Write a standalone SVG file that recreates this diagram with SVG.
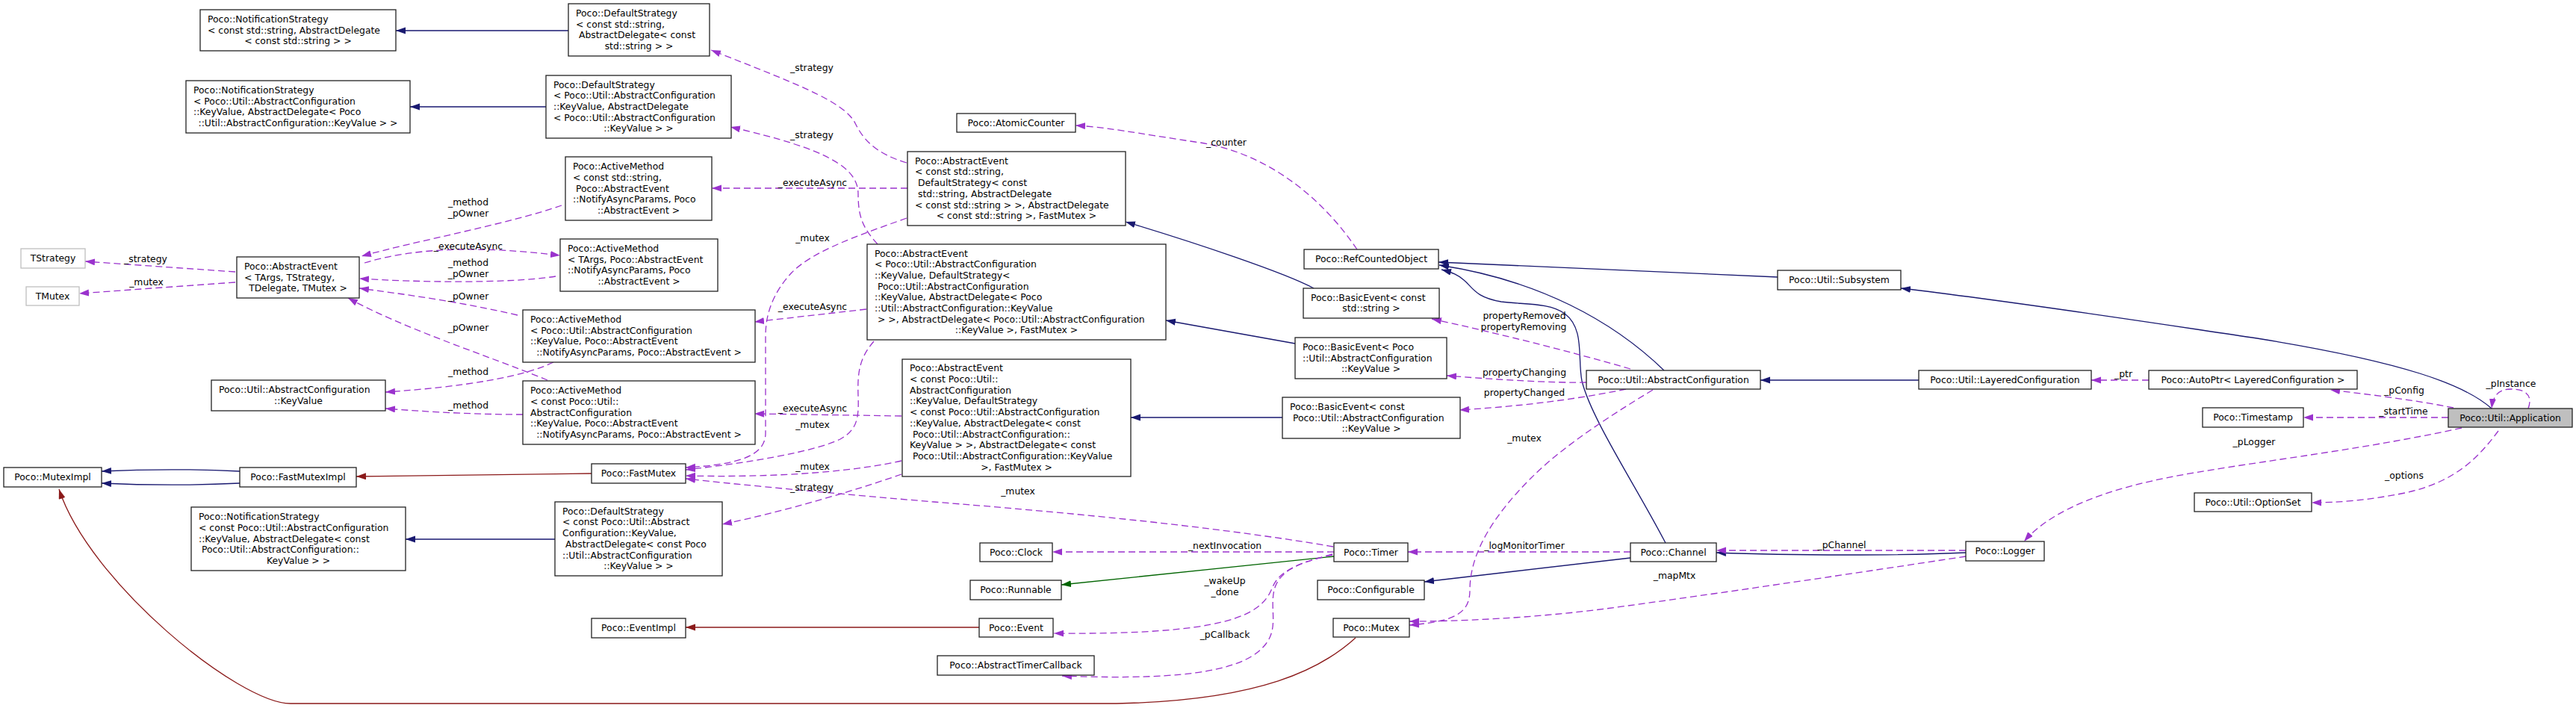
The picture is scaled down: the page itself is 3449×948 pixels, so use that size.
<svg xmlns="http://www.w3.org/2000/svg" width="3449" height="948" viewBox="0 0 3449 948">
<style>
text{font-family:"DejaVu Sans","Liberation Sans",sans-serif;font-size:12.4px;fill:#000}
.c{text-anchor:middle}
.node rect{fill:#fff;stroke:#222;stroke-width:1.3}
.node.gray rect{stroke:#bfbfbf}
.node.cur rect{fill:#bfbfbf}
#edges path{fill:none;stroke-width:1.3}
#edges .inh{stroke:#191970;marker-end:url(#an)}
#edges .pri{stroke:#8b1a1a;marker-end:url(#ar)}
#edges .pro{stroke:#006400;marker-end:url(#ag)}
#edges .use{stroke:#9a32cd;stroke-dasharray:9,5;marker-end:url(#ap)}
</style>
<defs>
<marker id="an" markerUnits="userSpaceOnUse" markerWidth="14" markerHeight="10" refX="13" refY="4.5" orient="auto"><path d="M0,0 L13,4.5 L0,9 z" fill="#191970"/></marker>
<marker id="ar" markerUnits="userSpaceOnUse" markerWidth="14" markerHeight="10" refX="13" refY="4.5" orient="auto"><path d="M0,0 L13,4.5 L0,9 z" fill="#8b1a1a"/></marker>
<marker id="ag" markerUnits="userSpaceOnUse" markerWidth="14" markerHeight="10" refX="13" refY="4.5" orient="auto"><path d="M0,0 L13,4.5 L0,9 z" fill="#006400"/></marker>
<marker id="ap" markerUnits="userSpaceOnUse" markerWidth="14" markerHeight="10" refX="13" refY="4.5" orient="auto"><path d="M0,0 L13,4.5 L0,9 z" fill="#9a32cd"/></marker>
</defs>
<rect width="3449" height="948" fill="#fff"/>

<g id="edges">
<path class="inh" d="M761,41 L530,41"/>
<path class="inh" d="M731,143 L549,143"/>
<path class="inh" d="M743,722 L543,722"/>
<path class="inh" d="M321,631 C260,628 200,628 136,631"/>
<path class="inh" d="M321,647 C260,650 200,650 136,647"/>
<path class="inh" d="M1759,386 C1720,365 1600,325 1507,297"/>
<path class="inh" d="M1734,460 L1561,429"/>
<path class="inh" d="M1717,559 L1514,559"/>
<path class="inh" d="M2380,371 L1926,351"/>
<path class="inh" d="M2228,496 C2160,430 2060,375 1927,355"/>
<path class="inh" d="M2230,727 C2190,650 2130,560 2118,510 C2112,480 2122,440 2095,420 C2075,405 2040,408 2010,404 C1975,398 1972,385 1960,375 C1952,368 1945,365 1930,361"/>
<path class="inh" d="M2569,509 L2357,509"/>
<path class="inh" d="M3336,547 C3300,515 3220,485 3022,453 C2880,432 2700,404 2545,386"/>
<path class="inh" d="M2183,747 L1907,779"/>
<path class="inh" d="M2632,740 C2550,744 2400,744 2298,740"/>
<path class="pri" d="M792,634 L477,638"/>
<path class="pri" d="M1311,840 L918,840"/>
<path class="pri" d="M1815,854 C1770,895 1690,938 1495,942 L389,942 C320,942 120,780 79,655"/>
<path class="pro" d="M1786,745 L1421,783"/>

<path class="use" d="M1214,218 C1170,205 1155,185 1145,165 C1130,135 1060,110 952,67"/>
<path class="use" d="M1175,327 C1155,305 1149,290 1149,260 C1149,225 1110,200 978,170"/>
<path class="use" d="M1215,252 L953,252"/>
<path class="use" d="M1214,292 C1150,315 1090,335 1060,365 C1035,392 1025,420 1025,450 L1025,580 C1025,610 990,622 918,626"/>
<path class="use" d="M1160,414 L1010,431"/>
<path class="use" d="M1207,557 L1010,554"/>
<path class="use" d="M1170,457 C1150,480 1148,500 1149,530 C1150,560 1148,575 1125,588 C1090,605 1000,620 918,629"/>
<path class="use" d="M1207,617 C1150,630 1050,640 918,637"/>
<path class="use" d="M1207,635 C1150,655 1050,685 967,702"/>
<path class="use" d="M1785,732 C1600,700 1350,680 1250,672 C1130,662 1000,650 918,641"/>
<path class="use" d="M752,275 C680,300 560,322 484,343"/>
<path class="use" d="M488,352 C560,330 650,330 750,342"/>
<path class="use" d="M744,370 C680,380 560,378 481,373"/>
<path class="use" d="M693,422 C620,405 550,395 481,386"/>
<path class="use" d="M733,509 C650,475 540,440 466,399"/>
<path class="use" d="M741,485 C700,505 620,518 516,525"/>
<path class="use" d="M700,555 C640,555 580,552 516,547"/>
<path class="use" d="M315,364 L114,350"/>
<path class="use" d="M315,378 L106,393"/>
<path class="use" d="M1786,739 L1409,739"/>
<path class="use" d="M1784,742 C1735,755 1712,765 1703,788 C1688,825 1640,850 1411,848"/>
<path class="use" d="M1784,743 C1740,752 1712,765 1706,790 C1700,815 1712,840 1695,862 C1670,895 1600,912 1422,905"/>
<path class="use" d="M2183,739 L1885,739"/>
<path class="use" d="M2183,494 C2100,470 2000,445 1917,427"/>
<path class="use" d="M2124,512 C2080,513 2000,508 1937,503"/>
<path class="use" d="M2177,521 C2100,537 2020,545 1954,549"/>
<path class="use" d="M2213,522 C2150,560 2090,600 2050,640 C2000,690 1968,740 1968,790 C1968,820 1950,832 1887,837"/>
<path class="use" d="M2632,745 C2500,765 2300,795 2150,815 C2050,828 1950,832 1887,832"/>
<path class="use" d="M2632,737 L2298,737"/>
<path class="use" d="M1817,334 C1760,250 1680,200 1600,190 C1520,178 1480,170 1440,168"/>
<path class="use" d="M2877,509 L2800,509"/>
<path class="use" d="M3285,546 C3230,535 3170,528 3120,522"/>
<path class="use" d="M3278,559 L3084,559"/>
<path class="use" d="M3296,573 C3150,605 3000,620 2900,640 C2800,660 2740,690 2710,725"/>
<path class="use" d="M3345,577 C3320,610 3290,645 3220,660 C3170,670 3130,673 3095,673"/>
<path class="use" d="M3385,547 C3392,528 3380,521 3362,521 C3345,521 3338,530 3336,547"/>

<g class="c">
<text x="1087" y="95">_strategy</text>
<text x="1087" y="185">_strategy</text>
<text x="1088" y="249">_executeAsync</text>
<text x="1088" y="323">_mutex</text>
<text x="1088" y="415">_executeAsync</text>
<text x="1088" y="551">_executeAsync</text>
<text x="1088" y="573">_mutex</text>
<text x="1088" y="629">_mutex</text>
<text x="1087" y="657">_strategy</text>
<text x="1363" y="662">_mutex</text>
<text x="627" y="275">_method</text>
<text x="627" y="290">_pOwner</text>
<text x="627" y="334">_executeAsync</text>
<text x="627" y="356">_method</text>
<text x="627" y="371">_pOwner</text>
<text x="627" y="401">_pOwner</text>
<text x="627" y="443">_pOwner</text>
<text x="627" y="502">_method</text>
<text x="627" y="547">_method</text>
<text x="195" y="351">_strategy</text>
<text x="196" y="382">_mutex</text>
<text x="1640" y="735">_nextInvocation</text>
<text x="1640" y="782">_wakeUp</text>
<text x="1640" y="797">_done</text>
<text x="1640" y="854">_pCallback</text>
<text x="2041" y="735">_logMonitorTimer</text>
<text x="2041" y="427">propertyRemoved</text>
<text x="2040" y="442">propertyRemoving</text>
<text x="2041" y="503">propertyChanging</text>
<text x="2041" y="530">propertyChanged</text>
<text x="2041" y="591">_mutex</text>
<text x="2242" y="775">_mapMtx</text>
<text x="2466" y="734">_pChannel</text>
<text x="1642" y="195">_counter</text>
<text x="2843" y="505">_ptr</text>
<text x="3219" y="527">_pConfig</text>
<text x="3218" y="555">_startTime</text>
<text x="3018" y="596">_pLogger</text>
<text x="3219" y="641">_options</text>
<text x="3362" y="518">_pInstance</text>
</g>
</g>

<g id="n1" class="node"><rect x="268" y="13" width="262" height="55"/><text x="278" y="29.8">Poco::NotificationStrategy</text><text x="278" y="44.5">&lt; const std::string, AbstractDelegate</text><text class="c" x="399" y="59.2">&lt; const std::string &gt; &gt;</text></g>
<g id="n2" class="node"><rect x="761" y="5" width="189" height="70"/><text x="771" y="21.9">Poco::DefaultStrategy</text><text x="771" y="36.6">&lt; const std::string,</text><text x="771" y="51.3" xml:space="preserve"> AbstractDelegate&lt; const</text><text class="c" x="855.5" y="66">std::string &gt; &gt;</text></g>
<g id="n3" class="node"><rect x="249" y="108" width="300" height="70"/><text x="259" y="124.9">Poco::NotificationStrategy</text><text x="259" y="139.6">&lt; Poco::Util::AbstractConfiguration</text><text x="259" y="154.3">::KeyValue, AbstractDelegate&lt; Poco</text><text class="c" x="399" y="169">::Util::AbstractConfiguration::KeyValue &gt; &gt;</text></g>
<g id="n4" class="node"><rect x="731" y="101" width="248" height="84"/><text x="741" y="117.6">Poco::DefaultStrategy</text><text x="741" y="132.3">&lt; Poco::Util::AbstractConfiguration</text><text x="741" y="147">::KeyValue, AbstractDelegate</text><text x="741" y="161.7">&lt; Poco::Util::AbstractConfiguration</text><text class="c" x="855" y="176.4">::KeyValue &gt; &gt;</text></g>
<g id="n5" class="node"><rect x="757" y="210" width="196" height="85"/><text x="767" y="227.1">Poco::ActiveMethod</text><text x="767" y="241.8">&lt; const std::string,</text><text x="767" y="256.5" xml:space="preserve"> Poco::AbstractEvent</text><text x="767" y="271.2">::NotifyAsyncParams, Poco</text><text class="c" x="855" y="285.9">::AbstractEvent &gt;</text></g>
<g id="n6" class="node gray"><rect x="28" y="333" width="86" height="26"/><text class="c" x="71" y="350">TStrategy</text></g>
<g id="n7" class="node gray"><rect x="35" y="384" width="71" height="25"/><text class="c" x="70.5" y="400.5">TMutex</text></g>
<g id="n8" class="node"><rect x="317" y="344" width="164" height="55"/><text x="327" y="360.8">Poco::AbstractEvent</text><text x="327" y="375.5">&lt; TArgs, TStrategy,</text><text class="c" x="399" y="390.2">TDelegate, TMutex &gt;</text></g>
<g id="n9" class="node"><rect x="750" y="320" width="211" height="70"/><text x="760" y="336.9">Poco::ActiveMethod</text><text x="760" y="351.6">&lt; TArgs, Poco::AbstractEvent</text><text x="760" y="366.3">::NotifyAsyncParams, Poco</text><text class="c" x="855.5" y="381">::AbstractEvent &gt;</text></g>
<g id="n10" class="node"><rect x="700" y="415" width="311" height="70"/><text x="710" y="431.9">Poco::ActiveMethod</text><text x="710" y="446.6">&lt; Poco::Util::AbstractConfiguration</text><text x="710" y="461.3">::KeyValue, Poco::AbstractEvent</text><text class="c" x="855.5" y="476">::NotifyAsyncParams, Poco::AbstractEvent &gt;</text></g>
<g id="n11" class="node"><rect x="283" y="509" width="233" height="41"/><text x="293" y="526.1">Poco::Util::AbstractConfiguration</text><text class="c" x="399.5" y="540.8">::KeyValue</text></g>
<g id="n12" class="node"><rect x="700" y="510" width="311" height="85"/><text x="710" y="527.1">Poco::ActiveMethod</text><text x="710" y="541.8">&lt; const Poco::Util::</text><text x="710" y="556.5">AbstractConfiguration</text><text x="710" y="571.2">::KeyValue, Poco::AbstractEvent</text><text class="c" x="855.5" y="585.9">::NotifyAsyncParams, Poco::AbstractEvent &gt;</text></g>
<g id="n13" class="node"><rect x="5" y="626" width="131" height="26"/><text class="c" x="70.5" y="643">Poco::MutexImpl</text></g>
<g id="n14" class="node"><rect x="321" y="626" width="156" height="26"/><text class="c" x="399" y="643">Poco::FastMutexImpl</text></g>
<g id="n15" class="node"><rect x="792" y="621" width="126" height="26"/><text class="c" x="855" y="638">Poco::FastMutex</text></g>
<g id="n16" class="node"><rect x="256" y="679" width="287" height="85"/><text x="266" y="696.1">Poco::NotificationStrategy</text><text x="266" y="710.8">&lt; const Poco::Util::AbstractConfiguration</text><text x="266" y="725.5">::KeyValue, AbstractDelegate&lt; const</text><text x="266" y="740.2" xml:space="preserve"> Poco::Util::AbstractConfiguration::</text><text class="c" x="399.5" y="754.9">KeyValue &gt; &gt;</text></g>
<g id="n17" class="node"><rect x="743" y="672" width="224" height="99"/><text x="753" y="688.7">Poco::DefaultStrategy</text><text x="753" y="703.4">&lt; const Poco::Util::Abstract</text><text x="753" y="718.1">Configuration::KeyValue,</text><text x="753" y="732.8" xml:space="preserve"> AbstractDelegate&lt; const Poco</text><text x="753" y="747.5">::Util::AbstractConfiguration</text><text class="c" x="855" y="762.2">::KeyValue &gt; &gt;</text></g>
<g id="n18" class="node"><rect x="792" y="828" width="126" height="26"/><text class="c" x="855" y="845">Poco::EventImpl</text></g>
<g id="n19" class="node"><rect x="1281" y="152" width="159" height="25"/><text class="c" x="1360.5" y="168.5">Poco::AtomicCounter</text></g>
<g id="n20" class="node"><rect x="1215" y="203" width="292" height="99"/><text x="1225" y="219.7">Poco::AbstractEvent</text><text x="1225" y="234.4">&lt; const std::string,</text><text x="1225" y="249.1" xml:space="preserve"> DefaultStrategy&lt; const</text><text x="1225" y="263.8" xml:space="preserve"> std::string, AbstractDelegate</text><text x="1225" y="278.5">&lt; const std::string &gt; &gt;, AbstractDelegate</text><text class="c" x="1361" y="293.2">&lt; const std::string &gt;, FastMutex &gt;</text></g>
<g id="n21" class="node"><rect x="1161" y="327" width="400" height="128"/><text x="1171" y="343.5">Poco::AbstractEvent</text><text x="1171" y="358.2">&lt; Poco::Util::AbstractConfiguration</text><text x="1171" y="372.9">::KeyValue, DefaultStrategy&lt;</text><text x="1171" y="387.6" xml:space="preserve"> Poco::Util::AbstractConfiguration</text><text x="1171" y="402.3">::KeyValue, AbstractDelegate&lt; Poco</text><text x="1171" y="417">::Util::AbstractConfiguration::KeyValue</text><text x="1171" y="431.7" xml:space="preserve"> &gt; &gt;, AbstractDelegate&lt; Poco::Util::AbstractConfiguration</text><text class="c" x="1361" y="446.4">::KeyValue &gt;, FastMutex &gt;</text></g>
<g id="n22" class="node"><rect x="1208" y="481" width="306" height="157"/><text x="1218" y="497.3">Poco::AbstractEvent</text><text x="1218" y="512">&lt; const Poco::Util::</text><text x="1218" y="526.7">AbstractConfiguration</text><text x="1218" y="541.4">::KeyValue, DefaultStrategy</text><text x="1218" y="556.1">&lt; const Poco::Util::AbstractConfiguration</text><text x="1218" y="570.8">::KeyValue, AbstractDelegate&lt; const</text><text x="1218" y="585.5" xml:space="preserve"> Poco::Util::AbstractConfiguration::</text><text x="1218" y="600.2">KeyValue &gt; &gt;, AbstractDelegate&lt; const</text><text x="1218" y="614.9" xml:space="preserve"> Poco::Util::AbstractConfiguration::KeyValue</text><text class="c" x="1361" y="629.6">&gt;, FastMutex &gt;</text></g>
<g id="n23" class="node"><rect x="1746" y="334" width="180" height="26"/><text class="c" x="1836" y="351">Poco::RefCountedObject</text></g>
<g id="n24" class="node"><rect x="1745" y="386" width="182" height="40"/><text x="1755" y="402.6">Poco::BasicEvent&lt; const</text><text class="c" x="1836" y="417.3">std::string &gt;</text></g>
<g id="n25" class="node"><rect x="1734" y="452" width="203" height="55"/><text x="1744" y="468.8">Poco::BasicEvent&lt; Poco</text><text x="1744" y="483.5">::Util::AbstractConfiguration</text><text class="c" x="1835.5" y="498.2">::KeyValue &gt;</text></g>
<g id="n26" class="node"><rect x="1717" y="532" width="238" height="55"/><text x="1727" y="548.8">Poco::BasicEvent&lt; const</text><text x="1727" y="563.5" xml:space="preserve"> Poco::Util::AbstractConfiguration</text><text class="c" x="1836" y="578.2">::KeyValue &gt;</text></g>
<g id="n27" class="node"><rect x="2124" y="496" width="233" height="25"/><text class="c" x="2240.5" y="512.5">Poco::Util::AbstractConfiguration</text></g>
<g id="n28" class="node"><rect x="2380" y="362" width="165" height="26"/><text class="c" x="2462.5" y="379">Poco::Util::Subsystem</text></g>
<g id="n29" class="node"><rect x="2569" y="496" width="231" height="25"/><text class="c" x="2684.5" y="512.5">Poco::Util::LayeredConfiguration</text></g>
<g id="n30" class="node"><rect x="2877" y="496" width="279" height="25"/><text class="c" x="3016.5" y="512.5">Poco::AutoPtr&lt; LayeredConfiguration &gt;</text></g>
<g id="n31" class="node"><rect x="2949" y="546" width="135" height="26"/><text class="c" x="3016.5" y="563">Poco::Timestamp</text></g>
<g id="n32" class="node cur"><rect x="3278" y="547" width="166" height="25"/><text class="c" x="3361" y="563.5">Poco::Util::Application</text></g>
<g id="n33" class="node"><rect x="2938" y="660" width="157" height="25"/><text class="c" x="3016.5" y="676.5">Poco::Util::OptionSet</text></g>
<g id="n34" class="node"><rect x="2632" y="725" width="105" height="26"/><text class="c" x="2684.5" y="742">Poco::Logger</text></g>
<g id="n35" class="node"><rect x="2183" y="727" width="115" height="25"/><text class="c" x="2240.5" y="743.5">Poco::Channel</text></g>
<g id="n36" class="node"><rect x="1786" y="727" width="99" height="25"/><text class="c" x="1835.5" y="743.5">Poco::Timer</text></g>
<g id="n37" class="node"><rect x="1312" y="727" width="97" height="25"/><text class="c" x="1360.5" y="743.5">Poco::Clock</text></g>
<g id="n38" class="node"><rect x="1299" y="777" width="122" height="26"/><text class="c" x="1360" y="794">Poco::Runnable</text></g>
<g id="n39" class="node"><rect x="1311" y="828" width="99" height="25"/><text class="c" x="1360.5" y="844.5">Poco::Event</text></g>
<g id="n40" class="node"><rect x="1255" y="878" width="210" height="26"/><text class="c" x="1360" y="895">Poco::AbstractTimerCallback</text></g>
<g id="n41" class="node"><rect x="1764" y="777" width="143" height="26"/><text class="c" x="1835.5" y="794">Poco::Configurable</text></g>
<g id="n42" class="node"><rect x="1785" y="828" width="102" height="25"/><text class="c" x="1836" y="844.5">Poco::Mutex</text></g>
</svg>
